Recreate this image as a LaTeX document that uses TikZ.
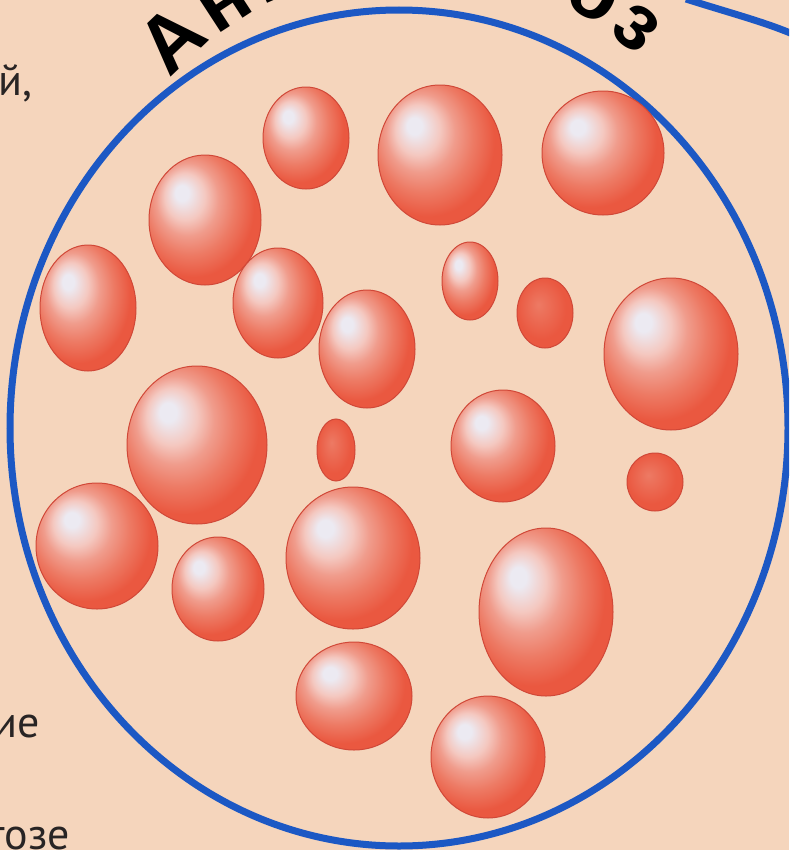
\documentclass[tikz,border=0pt]{standalone}
\usepackage{fontspec}
\usepackage{xcolor}
\usepackage{tikz}
\usetikzlibrary{calc}

\newfontfamily\titlefont{Liberation Sans}
\newfontfamily\bodyfont{PT Sans}

\definecolor{paper}{RGB}{245,213,188}
\definecolor{ringblue}{RGB}{28,88,196}
\definecolor{cellred}{RGB}{234,88,64}
\definecolor{cellmid}{RGB}{237,122,100}
\definecolor{celllight}{RGB}{240,156,140}
\definecolor{cellpink}{RGB}{244,200,192}
\definecolor{cellhi}{RGB}{236,234,242}
\definecolor{celledge}{RGB}{208,72,56}
\definecolor{inkgray}{RGB}{40,36,36}

% 带高光的球形细胞与无高光的小细胞
\pgfdeclareradialshading{cellball}{\pgfpoint{-11bp}{11bp}}{%
  color(0bp)=(cellhi); color(3bp)=(cellhi); color(9bp)=(cellpink);
  color(14bp)=(celllight); color(20bp)=(cellmid); color(27bp)=(cellred);
  color(50bp)=(cellred)}
\pgfdeclareradialshading{cellflat}{\pgfpoint{-6bp}{6bp}}{%
  color(0bp)=(cellmid); color(22bp)=(cellred); color(50bp)=(cellred)}

\tikzset{
  ring/.style={draw=ringblue, line width=2.1mm},
  cell/.style={shading=cellball, draw=celledge, line width=0.3mm},
  smallcell/.style={shading=cellflat, draw=celledge, line width=0.3mm},
  titleletter/.style={font=\titlefont\bfseries\fontsize{68}{68}\selectfont,
    anchor=base, inner sep=0pt, text=black},
  bodytext/.style={font=\bodyfont\fontsize{37.5}{45}\selectfont,
    inner sep=0pt, text=inkgray}
}

\begin{document}
\begin{tikzpicture}[x=0.3mm, y=-0.3mm]
  \useasboundingbox (0,0) rectangle (789,850);
  \clip (0,0) rectangle (789,850);
  \fill[paper] (0,0) rectangle (789,850);

  % 外圈及右上角另一圈的边
  \coordinate (O) at (399,428);
  \draw[ring] (O) ellipse [x radius=389, y radius=418];
  \draw[ring] (686,-1) .. controls (730,13) and (765,22) .. (795,35);

  % 大小不一的红细胞
  \foreach \x/\y/\a/\b in {306/138/43/51, 440/155/62/70, 603/153/61/62,
      205/220/56/65, 88/308/48/63, 278/303/45/55, 470/281/28/39,
      367/349/48/59, 671/354/67/76, 197/445/70/79, 503/446/52/56,
      97/546/61/63, 218/589/46/52, 353/558/67/71, 546/612/67/84,
      354/696/58/54, 488/757/57/61}
    \shadedraw[cell] (\x,\y) ellipse [x radius=\a, y radius=\b];
  \foreach \x/\y/\a/\b in {545/313/28/35, 336/450/19/31, 655/482/28/29}
    \shadedraw[smallcell] (\x,\y) ellipse [x radius=\a, y radius=\b];

  % 沿圆弧排列的标题，中间几个字母在纸边以外
  \coordinate (T) at (415,295);
  \foreach \ch/\ang [count=\i] in {А/133.6, н/123.1, и/113.5, з/104.8,
      о/96.0, ц/86.3, и/76.5, т/67.8, о/59.2, з/50.4}
    \node[titleletter, rotate=\ang-90] (L\i) at ($(T)+(-\ang:326)$) {\ch};

  % 左栏正文的行尾
  \node[bodytext, anchor=base east] (t1) at (33,95) {й,};
  \node[bodytext, anchor=base east] (t2) at (40,737) {ие};
  \node[bodytext, anchor=base east] (t3) at (70,849) {тозе};
\end{tikzpicture}
\end{document}
